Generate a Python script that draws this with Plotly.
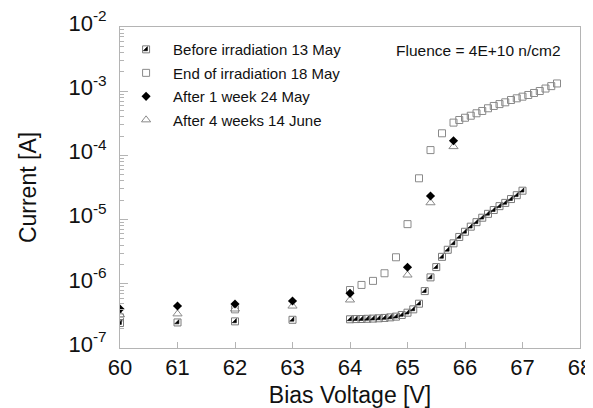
import plotly.graph_objects as go

# ---------------- data ----------------
v_before = [60, 61, 62, 63,
            64.0, 64.1, 64.2, 64.3, 64.4, 64.5, 64.6, 64.7, 64.8, 64.9,
            65.0, 65.1, 65.2, 65.3, 65.4, 65.5, 65.6, 65.7, 65.8, 65.9,
            66.0, 66.1, 66.2, 66.3, 66.4, 66.5, 66.6, 66.7, 66.8, 66.9, 67.0]
i_before = [2.45e-7, 2.5e-7, 2.6e-7, 2.75e-7,
            2.80e-7, 2.82e-7, 2.83e-7, 2.85e-7, 2.87e-7, 2.9e-7, 2.94e-7, 3.0e-7, 3.08e-7, 3.27e-7,
            3.55e-7, 4.0e-7, 4.9e-7, 7.7e-7, 1.26e-6, 1.82e-6, 2.63e-6, 3.39e-6, 4.27e-6, 5.37e-6,
            6.46e-6, 7.76e-6, 9.12e-6, 1.07e-5, 1.23e-5, 1.41e-5, 1.62e-5, 1.82e-5, 2.09e-5, 2.4e-5, 2.82e-5]

v_end = [60, 62, 64.0, 64.2, 64.4, 64.6, 64.8, 65.0, 65.2, 65.4, 65.6, 65.8,
         65.9, 66.0, 66.1, 66.2, 66.3, 66.4, 66.5, 66.6, 66.7, 66.8, 66.9, 67.0,
         67.1, 67.2, 67.3, 67.4, 67.5, 67.6]
i_end = [3.0e-7, 4.0e-7, 8.0e-7, 9.6e-7, 1.11e-6, 1.46e-6, 2.59e-6, 8.5e-6, 4.4e-5, 1.21e-4, 2.21e-4, 3.24e-4,
         3.56e-4, 3.86e-4, 4.15e-4, 4.53e-4, 4.92e-4, 5.42e-4, 5.89e-4, 6.3e-4, 6.71e-4, 7.29e-4, 7.75e-4, 8.22e-4,
         8.73e-4, 9.38e-4, 1.007e-3, 1.10e-3, 1.2e-3, 1.32e-3]

v_1w = [60, 61, 62, 63, 64, 65, 65.4, 65.8]
i_1w = [4.05e-7, 4.5e-7, 4.85e-7, 5.4e-7, 7.1e-7, 1.81e-6, 2.33e-5, 1.69e-4]

v_4w = [60, 61, 62, 63, 64, 65, 65.4, 65.8]
i_4w = [3.3e-7, 3.4e-7, 4.05e-7, 4.5e-7, 5.6e-7, 1.37e-6, 1.83e-5, 1.37e-4]

names = ["Before irradiation 13 May", "End of irradiation 18 May",
         "After 1 week 24 May", "After 4 weeks 14 June"]

x_ticks = [60, 61, 62, 63, 64, 65, 66, 67, 68]
y_tickvals = [1e-7, 1e-6, 1e-5, 1e-4, 1e-3, 1e-2]
y_ticktext = ["10<sup>-7</sup>", "10<sup>-6</sup>", "10<sup>-5</sup>",
              "10<sup>-4</sup>", "10<sup>-3</sup>", "10<sup>-2</sup>"]
y_minor = [k * 10.0 ** e for e in range(-7, -2) for k in range(2, 10)]

annotation_text = "Fluence = 4E+10 n/cm2"

# ---------------- figure ----------------
FONT = "Liberation Sans, Arial, sans-serif"
AX = "#b4b4b4"

fig = go.Figure()

# End of irradiation (open squares)
fig.add_trace(go.Scatter(
    x=v_end, y=i_end, mode="markers", name=names[1], legendrank=2, legendgroup="g2",
    marker=dict(symbol="square-open", size=7, color="#8a8a8a", line=dict(width=1))))

# Before irradiation: half-filled square = open square + black lower-right triangle
fig.add_trace(go.Scatter(
    x=v_before, y=i_before, mode="markers", name=names[0], legend="legend2",
    marker=dict(symbol="square-open", size=7, color="#7a7a7a", line=dict(width=1))))
fig.add_trace(go.Scatter(
    x=v_before, y=i_before, mode="markers", name=names[0], legendrank=1, legendgroup="g1",
    marker=dict(symbol="triangle-se", size=4.6, color="#000000",
                line=dict(width=0.6, color="#000000"))))

# After 4 weeks (open triangles)
fig.add_trace(go.Scatter(
    x=v_4w, y=i_4w, mode="markers", name=names[3], legendrank=4, legendgroup="g4",
    marker=dict(symbol="triangle-up-open", size=8, color="#8a8a8a", line=dict(width=1))))

# After 1 week (filled diamonds)
fig.add_trace(go.Scatter(
    x=v_1w, y=i_1w, mode="markers", name=names[2], legendrank=3, legendgroup="g3",
    marker=dict(symbol="diamond", size=7, color="#000000", line=dict(width=0))))

fig.add_annotation(
    xref="paper", yref="paper", x=0.962, y=0.928, xanchor="right", yanchor="middle",
    text=annotation_text, showarrow=False,
    font=dict(family=FONT, size=15.5, color="#111111"))

legend_common = dict(
    x=-0.002, y=0.981, xanchor="left", yanchor="top",
    bgcolor="rgba(0,0,0,0)", borderwidth=0, itemwidth=44,
    itemclick=False, itemdoubleclick=False)

fig.update_layout(
    width=585, height=400,
    margin=dict(l=112, r=13, t=19, b=60),
    paper_bgcolor="white", plot_bgcolor="white",
    font=dict(family=FONT, size=22, color="#111111"),
    legend=dict(**legend_common, traceorder="grouped", tracegroupgap=1,
                font=dict(family=FONT, size=15, color="#111111")),
    legend2=dict(**legend_common, font=dict(family=FONT, size=15, color="rgba(0,0,0,0)")),
    xaxis=dict(
        range=[60, 68], tickmode="array", tickvals=x_ticks, automargin=False,
        ticks="inside", ticklen=6, tickcolor=AX, tickwidth=1,
        showline=True, linecolor=AX, linewidth=1, mirror=True,
        showgrid=False, zeroline=False,
        tickfont=dict(family=FONT, size=22, color="#111111"),
        ticklabelstandoff=0, ticklabeloverflow="allow",
        title=dict(text="Bias Voltage [V]", font=dict(family=FONT, size=23, color="#111111"),
                   standoff=8),
    ),
    yaxis=dict(
        type="log", range=[-7, -2], tickmode="array", automargin=False,
        tickvals=y_tickvals, ticktext=y_ticktext,
        ticks="inside", ticklen=8, tickcolor=AX, tickwidth=1,
        minor=dict(tickmode="array", tickvals=y_minor, ticks="inside", ticklen=4,
                   tickcolor=AX, showgrid=False),
        showline=True, linecolor=AX, linewidth=1, mirror=True,
        showgrid=False, zeroline=False,
        tickfont=dict(family=FONT, size=22, color="#111111"),
        ticklabelstandoff=8, ticklabelshift=-4, ticklabeloverflow="allow",
        title=dict(text="\u00a0\u00a0Current [A]", font=dict(family=FONT, size=23, color="#111111"),
                   standoff=25),
    ),
)

fig.write_html("out.html")
